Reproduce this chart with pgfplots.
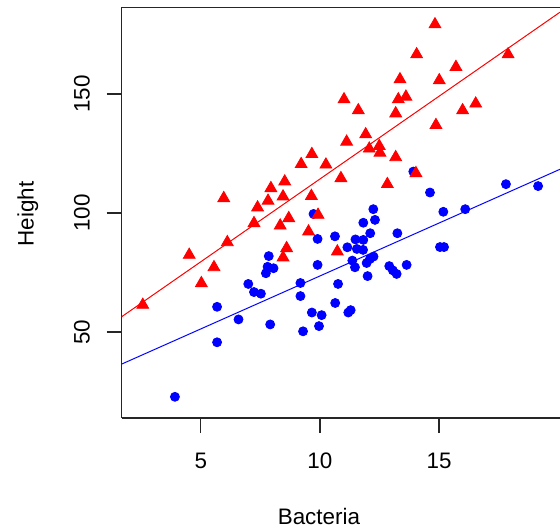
\documentclass[border=0pt]{standalone}
\usepackage{pgfplots}
\pgfplotsset{compat=1.18}
\usepackage{fontspec}
\setmainfont{Liberation Sans}
\definecolor{rred}{RGB}{255,0,0}
\definecolor{rblue}{RGB}{0,0,255}
\begin{document}
\begin{tikzpicture}
\useasboundingbox (-60.85pt,-55.5pt) rectangle (219.15pt,209pt);
\begin{axis}[
  scale only axis,
  width=219.15pt, height=205.25pt,
  at={(0,0)}, anchor=south west,
  xmin=1.675, xmax=20.08,
  ymin=13.9, ymax=186.3,
  axis x line*=box, axis y line*=left,
  axis line style={line width=0.6pt, black!85},
  xtick={5,10,15}, ytick={50,100,150},
  xtick pos=bottom, ytick pos=left,
  tick align=outside,
  major tick length=7.5pt,
  tick style={line width=0.6pt, black!85},
  minor tick num=0,
  font=\fontsize{11.2}{13}\selectfont,
  /pgf/number format/assume math mode=true,
  xticklabel style={anchor=base, yshift=-17.5pt},
  yticklabel style={xshift=-8.5pt, rotate=90, anchor=base},
  every axis x label/.style={at={([yshift=-53pt]rel axis cs:0.45,0)}, anchor=base},
  every axis y label/.style={at={([xshift=-44pt]rel axis cs:0,0.497)}, rotate=90, anchor=base},
  xlabel={Bacteria}, ylabel={Height},
  clip=true,
]
\addplot[only marks, mark=*, mark size=2.25pt, color=rblue, mark options={draw=rblue, fill=rblue}] coordinates {
(13.92,117.4) (17.81,112.1) (19.16,111.3) (14.62,108.6) (15.18,100.5) (16.10,101.6)
(9.73,99.6) (12.24,101.6) (11.82,95.9) (12.31,97.1) (12.11,91.5) (13.25,91.5)
(10.63,90.2) (9.90,89.1) (11.49,88.9) (11.82,88.7) (11.15,85.6) (11.55,84.9)
(11.81,84.5) (15.04,85.7) (15.21,85.7) (12.25,81.7) (12.10,80.7) (11.36,80.0)
(11.96,79.0) (11.47,77.2) (9.90,78.2) (12.91,77.7) (13.06,75.9) (13.22,74.4)
(13.64,78.2) (12.00,73.5) (10.76,70.2) (9.18,70.6) (9.18,65.1) (10.64,62.2)
(9.66,58.2) (10.07,57.1) (11.29,59.2) (11.19,58.2) (9.96,52.5) (9.29,50.3)
(7.85,81.9) (7.80,77.4) (8.05,76.8) (7.73,74.7) (6.99,70.2) (7.23,66.8)
(7.52,66.1) (5.68,60.6) (6.58,55.3) (7.91,53.2) (5.68,45.7) (3.91,22.8)
};
\addplot[only marks, mark=triangle*, mark size=3.4pt, color=rred, mark options={draw=rred, fill=rred}] coordinates {
(14.83,179.2) (14.06,166.6) (17.90,166.6) (15.71,161.3) (13.36,156.1) (15.01,155.7)
(11.01,147.7) (13.61,148.8) (13.29,147.7) (11.61,143.1) (13.18,141.8) (16.54,145.9)
(15.99,143.1) (14.87,136.9) (11.92,133.0) (11.12,129.9) (12.07,127.0) (12.49,128.1)
(12.52,125.3) (13.18,123.4) (9.66,124.7) (9.21,120.5) (10.25,120.3) (10.88,114.6)
(14.03,116.7) (12.83,112.1) (8.52,113.2) (7.94,110.4) (5.96,106.2) (7.82,105.1)
(8.45,106.9) (9.64,107.1) (7.38,102.3) (8.69,97.8) (8.33,94.7) (7.23,95.7)
(9.92,99.2) (9.52,92.2) (10.73,83.8) (6.11,87.7) (8.60,85.2) (8.45,81.3)
(4.51,82.4) (5.55,77.2) (5.02,70.5) (2.56,61.4)
};
\addplot[rred, line width=0.5pt] coordinates {(1.675,56.43) (20.08,184.33)};
\addplot[rblue, line width=0.5pt] coordinates {(1.675,36.55) (20.08,118.36)};
\end{axis}
\end{tikzpicture}
\end{document}
